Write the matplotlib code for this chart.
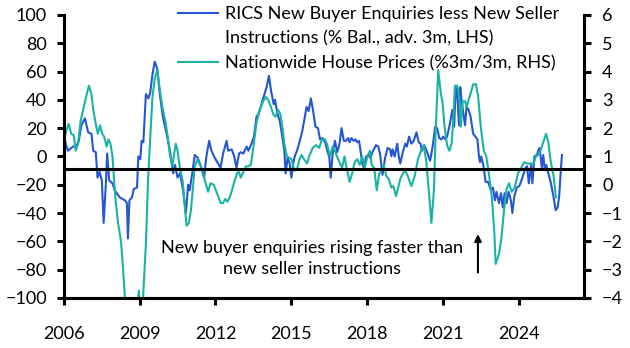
import matplotlib
matplotlib.use("Agg")
import matplotlib.pyplot as plt
import matplotlib.transforms as mtransforms
from matplotlib.lines import Line2D

plt.rcParams['font.family'] = ['Lato', 'DejaVu Sans']

# RICS New Buyer Enquiries less New Seller Instructions (% bal., adv. 3m) - LHS
rics_t = [2006.00, 2006.17, 2006.37, 2006.50, 2006.60, 2006.70, 2006.84, 2006.97, 2007.10, 2007.17,
          2007.27, 2007.34, 2007.42, 2007.51, 2007.58, 2007.67, 2007.72, 2007.80, 2007.93, 2008.02,
          2008.22, 2008.42, 2008.50, 2008.54, 2008.60, 2008.70, 2008.77, 2008.90, 2008.95, 2009.03,
          2009.08, 2009.15, 2009.25, 2009.35, 2009.42, 2009.51, 2009.60, 2009.70, 2009.80, 2009.92,
          2010.07, 2010.20, 2010.33, 2010.40, 2010.50, 2010.60, 2010.72, 2010.83, 2010.92, 2010.98,
          2011.08, 2011.18, 2011.30, 2011.44, 2011.55, 2011.64, 2011.75, 2011.84, 2011.97, 2012.10,
          2012.20, 2012.30, 2012.44, 2012.50, 2012.64, 2012.74, 2012.83, 2012.93, 2013.00, 2013.10,
          2013.23, 2013.30, 2013.42, 2013.52, 2013.62, 2013.70, 2013.82, 2013.90, 2014.02, 2014.11,
          2014.20, 2014.30, 2014.35, 2014.45, 2014.54, 2014.64, 2014.72, 2014.77, 2014.85, 2014.93,
          2015.00, 2015.07, 2015.13, 2015.22, 2015.33, 2015.43, 2015.50, 2015.60, 2015.68, 2015.77,
          2015.86, 2015.95, 2016.05, 2016.13, 2016.23, 2016.33, 2016.42, 2016.50, 2016.55, 2016.63,
          2016.72, 2016.81, 2016.90, 2016.98, 2017.07, 2017.15, 2017.24, 2017.30, 2017.37, 2017.46,
          2017.53, 2017.60, 2017.67, 2017.73, 2017.80, 2017.86, 2017.95, 2018.03, 2018.12, 2018.20,
          2018.34, 2018.43, 2018.50, 2018.60, 2018.70, 2018.80, 2018.90, 2018.95, 2019.00, 2019.08,
          2019.18, 2019.25, 2019.30, 2019.40, 2019.50, 2019.56, 2019.65, 2019.74, 2019.83, 2019.94,
          2020.03, 2020.10, 2020.16, 2020.25, 2020.34, 2020.42, 2020.48, 2020.58, 2020.68, 2020.76,
          2020.84, 2020.92, 2021.00, 2021.08, 2021.15, 2021.25, 2021.36, 2021.43, 2021.49, 2021.55,
          2021.62, 2021.67, 2021.72, 2021.78, 2021.86, 2021.92, 2022.00, 2022.08, 2022.18, 2022.27,
          2022.35, 2022.41, 2022.45, 2022.50, 2022.60, 2022.67, 2022.77, 2022.88, 2022.96, 2023.04,
          2023.10, 2023.20, 2023.28, 2023.35, 2023.42, 2023.50, 2023.58, 2023.67, 2023.73, 2023.80,
          2023.90, 2024.00, 2024.07, 2024.16, 2024.25, 2024.31, 2024.38, 2024.47, 2024.52, 2024.60,
          2024.70, 2024.75, 2024.81, 2024.89, 2024.95, 2025.00, 2025.07, 2025.15, 2025.23, 2025.35,
          2025.44, 2025.52, 2025.58, 2025.65, 2025.69]
rics_v = [14, 4, 7, 7, 11, 22, 27, 17, 16, 4,
          3, -15, -11, -17, -47, -19, 2, -17, -19, -24,
          -29, -31, -33, -58, -31, -29, -23, -22, 0, -2,
          11, 10, 44, 41, 45, 58, 67, 62, 44, 28,
          16, 4, -12, -6, -15, -12, -24, -40, -20, -24,
          -12, 1, -1, -8, -15, 0, 11, 4, -1, -5,
          -8, 2, 11, 4, 5, 0, -8, 2, 3, 2,
          7, 4, 9, 14, 28, 30, 37, 42, 49, 57,
          46, 37, 40, 30, 25, 14, 4, -12, -1, -5,
          -15, -5, 0, 4, 11, 18, 25, 35, 32, 41,
          32, 21, 20, 12, 13, 10, 4, -1, -15, 2,
          11, 3, 9, 20, 11, 11, 13, 10, 13, 11,
          12, 10, 11, 4, -5, -8, 0, 1, -1, 3,
          8, 7, 2, -13, -1, 6, 5, 0, 5, 0,
          9, -1, -5, 3, 9, 7, 14, 9, 11, 17,
          10, 9, 4, 8, 4, 0, -3, 7, 21, 20,
          13, 12, 14, 12, 14, 22, 33, 21, 49, 45,
          22, 49, 40, 32, 22, 35, 33, 28, 16, 14,
          12, 0, -4, 0, -8, -18, -18, -24, -22, -31,
          -25, -33, -26, -36, -26, -33, -25, -31, -40, -29,
          -22, -21, -18, -13, -8, -7, -19, -6, -19, 0,
          1, 4, 6, -8, 1, -8, -6, -12, -17, -28,
          -38, -36, -28, -8, 1]

# Nationwide House Prices (%3m/3m) - RHS
nw_t = [2006.00, 2006.10, 2006.20, 2006.30, 2006.40, 2006.48, 2006.57, 2006.67, 2006.80, 2006.90,
        2007.00, 2007.10, 2007.17, 2007.27, 2007.35, 2007.44, 2007.52, 2007.60, 2007.70, 2007.77,
        2007.85, 2007.93, 2007.99, 2008.05, 2008.15, 2008.25, 2008.28, 2008.37, 2008.42, 2008.55,
        2008.75, 2008.90, 2008.97, 2009.03, 2009.10, 2009.14, 2009.25, 2009.34, 2009.42, 2009.51,
        2009.60, 2009.70, 2009.80, 2009.90, 2010.03, 2010.12, 2010.20, 2010.30, 2010.35, 2010.43,
        2010.50, 2010.60, 2010.70, 2010.80, 2010.86, 2010.95, 2011.03, 2011.10, 2011.18, 2011.29,
        2011.42, 2011.58, 2011.71, 2011.80, 2011.93, 2012.06, 2012.21, 2012.30, 2012.38, 2012.47,
        2012.56, 2012.65, 2012.76, 2012.85, 2012.92, 2013.00, 2013.12, 2013.21, 2013.30, 2013.40,
        2013.50, 2013.62, 2013.75, 2013.88, 2013.99, 2014.08, 2014.19, 2014.28, 2014.37, 2014.47,
        2014.56, 2014.64, 2014.72, 2014.82, 2014.92, 2015.00, 2015.12, 2015.22, 2015.32, 2015.40,
        2015.50, 2015.62, 2015.70, 2015.84, 2015.97, 2016.10, 2016.20, 2016.33, 2016.42, 2016.52,
        2016.63, 2016.72, 2016.80, 2016.90, 2017.00, 2017.10, 2017.18, 2017.30, 2017.40, 2017.50,
        2017.60, 2017.70, 2017.80, 2017.90, 2018.00, 2018.10, 2018.17, 2018.27, 2018.37, 2018.47,
        2018.57, 2018.65, 2018.75, 2018.85, 2018.95, 2019.03, 2019.13, 2019.22, 2019.30, 2019.40,
        2019.50, 2019.60, 2019.74, 2019.87, 2020.00, 2020.14, 2020.23, 2020.33, 2020.44, 2020.53,
        2020.63, 2020.70, 2020.80, 2020.90, 2020.97, 2021.05, 2021.15, 2021.24, 2021.33, 2021.39,
        2021.46, 2021.55, 2021.63, 2021.69, 2021.77, 2021.86, 2021.92, 2022.00, 2022.07, 2022.18,
        2022.29, 2022.38, 2022.48, 2022.60, 2022.70, 2022.80, 2022.92, 2023.02, 2023.07, 2023.20,
        2023.30, 2023.40, 2023.50, 2023.60, 2023.70, 2023.82, 2023.95, 2024.08, 2024.20, 2024.30,
        2024.45, 2024.57, 2024.66, 2024.75, 2024.84, 2024.97, 2025.06, 2025.15, 2025.24, 2025.36,
        2025.45]
nw_v = [1.5, 1.9, 2.15, 1.8, 1.75, 1.2, 1.45, 2.25, 2.75, 3.15,
        3.5, 3.2, 2.65, 2.15, 1.8, 2.1, 1.8, 1.7, 1.35, 1.6,
        1.45, 1.0, 0.25, -0.55, -1.35, -1.9, -2.15, -3.25, -4.0, -5.25,
        -5.5, -4.5, -3.75, -4.4, -4.2, -3.95, -2.1, 0.25, 1.65, 3.1,
        3.75, 4.05, 3.35, 2.75, 2.2, 1.65, 1.05, 0.65, 1.0, 1.45,
        1.2, 0.55, 0.15, -0.9, -1.45, -1.35, -0.9, -0.2, 0.65, 0.9,
        0.65, 0.15, -0.25, 0.05, 0.0, -0.3, -0.65, -0.65, -0.5, -0.6,
        -0.45, -0.2, 0.15, 0.4, 0.45, 0.25, 0.5, 0.65, 0.65, 0.7,
        1.35, 2.2, 2.65, 2.95, 3.1, 3.0, 2.75, 2.5, 2.4, 2.65,
        2.5, 2.05, 1.45, 1.0, 0.95, 0.9, 0.5, 0.55, 0.9, 1.05,
        0.9, 0.75, 1.0, 1.3, 1.4, 1.3, 1.6, 1.6, 1.4, 1.0,
        1.35, 1.2, 1.0, 0.8, 0.6, 1.0, 0.6, 0.1, 0.4, 0.8,
        0.9, 0.7, 1.0, 0.6, 1.0, 1.2, 0.7, 0.6, -0.2, 0.4,
        0.5, 0.7, 0.3, 0.2, -0.1, -0.05, -0.4, -0.1, 0.2, 0.4,
        0.5, 0.3, -0.05, 0.3, 0.9, 1.25, 1.4, 0.8, -0.35, -1.35,
        -0.2, 1.9, 4.05, 3.25, 2.9, 2.05, 1.4, 1.2, 1.45, 2.25,
        3.5, 3.5, 3.1, 2.05, 2.95, 2.95, 2.75, 3.0, 3.2, 3.55,
        3.55, 3.1, 2.05, 1.2, 1.0, 0.4, -0.45, -1.75, -2.8, -2.45,
        -1.85, -0.9, -0.15, 0.05, -0.25, -0.1, 0.4, 0.6, 0.8, 0.75,
        0.75, 0.75, 1.0, 1.05, 1.2, 1.55, 1.8, 1.5, 0.85, 0.3,
        -0.45]

ref_level = -8.7  # LHS reference line
x_ticks = [2006, 2009, 2012, 2015, 2018, 2021, 2024]
left_ticks = list(range(-100, 101, 20))
right_ticks = list(range(-4, 7))

label_rics = "RICS New Buyer Enquiries less New Seller"
label_rics2 = "Instructions (% Bal., adv. 3m, LHS)"
label_nw = "Nationwide House Prices (%3m/3m, RHS)"
note = "New buyer enquiries rising faster than\nnew seller instructions"
note_x, note_y = 2015.8, -72
arrow_x, arrow_y0, arrow_y1 = 2022.37, -84, -53

blue = '#2456d3'
teal = '#1ab3a3'
fs = 13

fig = plt.figure(figsize=(6.3, 3.48), dpi=100)
ax = fig.add_axes([0.101, 0.144, 0.826, 0.813])
ax2 = ax.twinx()

ax.plot(rics_t, rics_v, color=blue, lw=1.5)
ax2.plot(nw_t, nw_v, color=teal, lw=1.5)

tr = mtransforms.blended_transform_factory(ax.transAxes, ax.transData)
ax2.plot([0, 1], [ref_level, ref_level], color='black', lw=2.2, transform=tr, zorder=5)

ax.set_xlim(2006, 2026.56)
ax.set_ylim(-100, 100)
ax2.set_ylim(-4, 6)
ax.set_xticks(x_ticks)
ax.set_yticks(left_ticks)
ax2.set_yticks(right_ticks)

for a in (ax, ax2):
    a.spines['top'].set_visible(False)
    for s in ('left', 'right', 'bottom'):
        a.spines[s].set_linewidth(2.2)
        a.spines[s].set_color('black')
    a.tick_params(axis='both', direction='out', length=5, width=2.2, labelsize=fs, colors='black')
ax.tick_params(axis='x', pad=15)
ax.tick_params(axis='y', pad=7)
ax2.tick_params(axis='y', pad=8)

handles = [Line2D([], [], color=blue, lw=1.5),
           Line2D([], [], color='none', lw=1.5),
           Line2D([], [], color=teal, lw=1.5)]
ax2.legend(handles, [label_rics, label_rics2, label_nw], loc='upper left',
           bbox_to_anchor=(0.2195, 1.03), frameon=False, fontsize=fs,
           handlelength=2.2, handletextpad=0.4, labelspacing=0.45,
           borderaxespad=0, borderpad=0)

ax.text(note_x, note_y, note, ha='center', va='center', fontsize=fs,
        linespacing=1.35, zorder=6)
ax.annotate('', xy=(arrow_x, arrow_y1), xytext=(arrow_x, arrow_y0),
            arrowprops=dict(arrowstyle='-|>', color='black', lw=1.5, mutation_scale=10))

fig.savefig('out.png', dpi=100)
